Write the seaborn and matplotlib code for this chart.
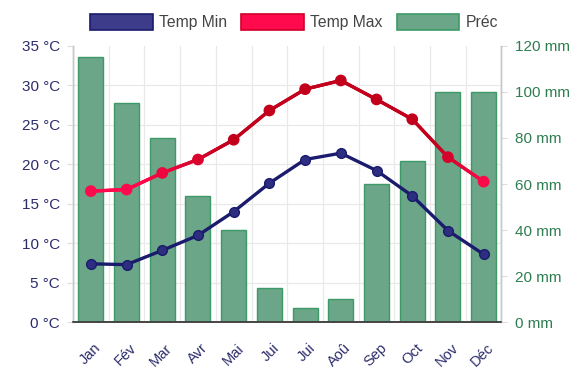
import numpy as np
import matplotlib
matplotlib.use("Agg")
import matplotlib.pyplot as plt
from matplotlib.patches import Patch
from matplotlib.collections import LineCollection
from matplotlib.colors import to_rgb
from matplotlib.transforms import ScaledTranslation
import seaborn as sns

months = ["Jan", "Fév", "Mar", "Avr", "Mai", "Jui", "Jui", "Aoû", "Sep", "Oct", "Nov", "Déc"]
temp_min = [7.4, 7.3, 9.1, 11.0, 14.0, 17.6, 20.6, 21.4, 19.2, 16.0, 11.6, 8.6]
temp_max = [16.6, 16.8, 18.9, 20.6, 23.1, 26.8, 29.5, 30.6, 28.2, 25.7, 20.9, 17.8]
prec = [115, 95, 80, 55, 40, 15, 6, 10, 60, 70, 100, 100]

sns.set_theme(style="white")
plt.rcParams["font.family"] = ["Liberation Sans", "DejaVu Sans"]

NAVY = "#1b1b6e"
NAVY_LABEL = "#2c2c6c"
GREEN_LABEL = "#2e7d50"
BAR_FACE = "#6aa687"
BAR_EDGE = "#3d9a68"
PINK = "#ff0a4c"
DARKRED = "#c2001c"

fig = plt.figure(figsize=(5.88, 3.69), dpi=100)
ax_p = fig.add_axes([73 / 588, 1 - 322.3 / 369, (501.5 - 73) / 588, (322.3 - 45.7) / 369])
ax_t = ax_p.twinx()
ax_t.set_zorder(ax_p.get_zorder() + 1)
ax_t.patch.set_visible(False)

x = np.arange(len(months))

# precipitation bars on the right-hand (mm) scale
sns.barplot(x=x, y=prec, ax=ax_p, color=BAR_FACE, width=0.7, saturation=1,
            edgecolor=BAR_EDGE, linewidth=1.0)
ax_p.set_ylim(0, 120)
ax_p.set_xlim(-0.5, len(months) - 0.5)

# temperature lines on the left-hand (°C) scale
sns.lineplot(x=x, y=temp_min, ax=ax_t, color=NAVY, linewidth=2.4, marker="o",
             markersize=7, markerfacecolor="#2e2e80", markeredgecolor=NAVY,
             markeredgewidth=1.0)

# max temperature: colour shades from pink (cooler) to dark red (warmer)
def shade(v, lo=17.5, hi=22.5):
    t = np.clip((v - lo) / (hi - lo), 0, 1)
    a, b = np.array(to_rgb(PINK)), np.array(to_rgb(DARKRED))
    return tuple(a + (b - a) * t)

xs = np.linspace(0, len(months) - 1, 400)
ys = np.interp(xs, x, temp_max)
pts = np.column_stack([xs, ys]).reshape(-1, 1, 2)
segs = np.concatenate([pts[:-1], pts[1:]], axis=1)
lc = LineCollection(segs, colors=[shade(v) for v in (ys[:-1] + ys[1:]) / 2],
                    linewidths=2.4, capstyle="round")
ax_t.add_collection(lc)
sns.scatterplot(x=x, y=temp_max, ax=ax_t, s=55, c=[shade(v) for v in temp_max],
                edgecolor=[shade(v) for v in temp_max], linewidth=1.0, zorder=3)
ax_t.set_ylim(0, 35)
ax_t.set_xlim(-0.5, len(months) - 0.5)

# axis sides
ax_t.yaxis.tick_left()
ax_t.yaxis.set_label_position("left")
ax_p.yaxis.tick_right()
ax_p.yaxis.set_label_position("right")

ax_t.set_yticks(np.arange(0, 36, 5))
ax_t.set_yticklabels([f"{v} °C" for v in range(0, 36, 5)])
ax_p.set_yticks(np.arange(0, 121, 20))
ax_p.set_yticklabels([f"{v} mm" for v in range(0, 121, 20)])

# grid: horizontal every 5 °C, vertical on month boundaries
ax_p.set_yticks(np.arange(0, 36, 5) * 120 / 35, minor=True)
ax_p.set_xticks(np.arange(-0.5, len(months), 1), minor=True)
ax_p.set_xticks(x)
ax_p.set_xticklabels(months)
ax_p.grid(which="minor", color="#e9e9e9", linewidth=0.9)
ax_p.grid(which="major", visible=False)
ax_p.set_axisbelow(True)
ax_p.tick_params(axis="y", which="minor", length=0)
ax_p.tick_params(axis="x", which="minor", length=5, color="#dddddd", width=0.8)
ax_p.tick_params(axis="x", which="major", length=0, labelsize=10.5, labelcolor=NAVY_LABEL,
                 pad=17, labelbottom=True)
ax_p.tick_params(axis="y", which="major", length=4.5, color="#dddddd", width=0.8,
                 labelsize=11, labelcolor=GREEN_LABEL, pad=5)
ax_t.tick_params(axis="y", length=4.5, color="#dddddd", width=0.8,
                 labelsize=11, labelcolor=NAVY_LABEL, pad=5)
shift = ScaledTranslation(8 / 100, 0, fig.dpi_scale_trans)
for lab in ax_p.get_xticklabels():
    lab.set_rotation(45)
    lab.set_rotation_mode("anchor")
    lab.set_ha("right")
    lab.set_va("center")
    lab.set_transform(lab.get_transform() + shift)

for a in (ax_p, ax_t):
    a.set_xlabel("")
    a.set_ylabel("")
    a.spines["top"].set_visible(False)
    a.spines["left"].set_color("#c8c8c8")
    a.spines["right"].set_color("#c8c8c8")
    a.spines["bottom"].set_color("#444444")
    a.spines["left"].set_linewidth(1.0)
    a.spines["right"].set_linewidth(1.0)
    a.spines["bottom"].set_linewidth(1.2)

handles = [
    Patch(facecolor="#3c3c8a", edgecolor=NAVY, linewidth=1.2, label="Temp Min"),
    Patch(facecolor=PINK, edgecolor="#d0002a", linewidth=1.2, label="Temp Max"),
    Patch(facecolor=BAR_FACE, edgecolor=BAR_EDGE, linewidth=1.2, label="Préc"),
]
fig.legend(handles=handles, loc="center", bbox_to_anchor=(0.5, 1 - 22 / 369), ncol=3,
           frameon=False, fontsize=11.3, handlelength=4.0, handleheight=1.15,
           handletextpad=0.4, columnspacing=0.9, labelcolor="#444444")

fig.savefig("out.png", dpi=100)
